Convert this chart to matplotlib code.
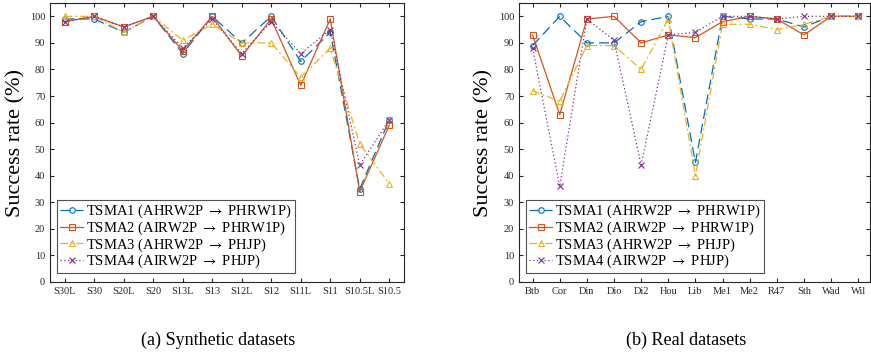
import matplotlib
matplotlib.use("Agg")
import matplotlib.pyplot as plt
import numpy as np

plt.rcParams['font.family'] = ['Liberation Serif', 'DejaVu Serif']
plt.rcParams['mathtext.fontset'] = 'stix'

# synthetic datasets
syn_labels = ["S30L", "S30", "S20L", "S20", "S13L", "S13", "S12L", "S12",
              "S11L", "S11", "S10.5L", "S10.5"]
syn_tsma1 = [99, 99, 94, 100, 86, 100, 90, 100, 83, 94, 35, 61]
syn_tsma2 = [98, 100, 96, 100, 87, 100, 85, 99, 74, 99, 34, 59]
syn_tsma3 = [100, 100, 94, 100, 91, 97, 90, 90, 77, 88, 52, 37]
syn_tsma4 = [98, 100, 96, 100, 88, 99, 86, 98, 86, 95, 44, 61]

# real datasets
real_labels = ["Btb", "Cor", "Din", "Dio", "Di2", "Hou", "Lib", "Me1", "Me2",
               "R47", "Sth", "Wad", "Wil"]
real_tsma1 = [89, 100, 90, 90, 98, 100, 45, 100, 99, 99, 96, 100, 100]
real_tsma2 = [93, 63, 99, 100, 90, 93, 92, 98, 100, 99, 93, 100, 100]
real_tsma3 = [72, 68, 89, 89, 80, 99, 40, 97, 97, 95, 97, 100, 100]
real_tsma4 = [88, 36, 99, 91, 44, 93, 94, 100, 100, 99, 100, 100, 100]

names = ["TSMA1 (AHRW2P $\\rightarrow$ PHRW1P)",
         "TSMA2 (AIRW2P $\\rightarrow$ PHRW1P)",
         "TSMA3 (AHRW2P $\\rightarrow$ PHJP)",
         "TSMA4 (AIRW2P $\\rightarrow$ PHJP)"]
colors = ["#0072BD", "#D95319", "#EDB120", "#7E2F8E"]
markers = ["o", "s", "^", "x"]
styles = [(0, (8, 4)), "-", (0, (6, 2.5, 1.5, 2.5)), (0, (1, 2))]


def draw(ax, labels, series, xmax):
    x = np.arange(len(labels))
    for y, name, c, m, ls in zip(series, names, colors, markers, styles):
        ax.plot(x, y, color=c, marker=m, linestyle=ls, linewidth=0.9,
                markersize=4, markerfacecolor="none", markeredgewidth=0.8,
                label=name)
    ax.set_xlim(-0.5, xmax)
    ax.set_ylim(0, 105)
    ax.set_xticks(x)
    ax.set_xticklabels(labels)
    ax.set_yticks(np.arange(0, 101, 10))
    ax.tick_params(direction="in", top=True, right=True, labelsize=7.5,
                   length=3, width=0.8, colors="#262626", labelcolor="#262626")
    for s in ax.spines.values():
        s.set_color("#262626")
        s.set_linewidth(0.8)
    ax.set_ylabel("Success rate (%)", fontsize=16)
    leg = ax.legend(loc="lower left", fontsize=10.5, handlelength=1.6,
                    handletextpad=0.2, borderpad=0.2, labelspacing=-0.05,
                    borderaxespad=0, fancybox=False, edgecolor="#262626",
                    bbox_to_anchor=(0.02, 0.032))
    leg.get_frame().set_linewidth(0.8)


fig = plt.figure(figsize=(8.71, 3.59), dpi=100)
ax1 = fig.add_axes([0.0574, 0.2145, 0.4064, 0.777])
ax2 = fig.add_axes([0.5959, 0.2145, 0.4025, 0.777])

draw(ax1, syn_labels, [syn_tsma1, syn_tsma2, syn_tsma3, syn_tsma4], 11.5)
draw(ax2, real_labels, [real_tsma1, real_tsma2, real_tsma3, real_tsma4], 12.42)
ax1.yaxis.set_label_coords(-0.068, 0.5)
ax2.yaxis.set_label_coords(-0.072, 0.5)

fig.text(0.251, 0.053, "(a) Synthetic datasets", ha="center", va="center",
         fontsize=13)
fig.text(0.788, 0.053, "(b) Real datasets", ha="center", va="center",
         fontsize=13)

fig.savefig("out.png", dpi=100)
